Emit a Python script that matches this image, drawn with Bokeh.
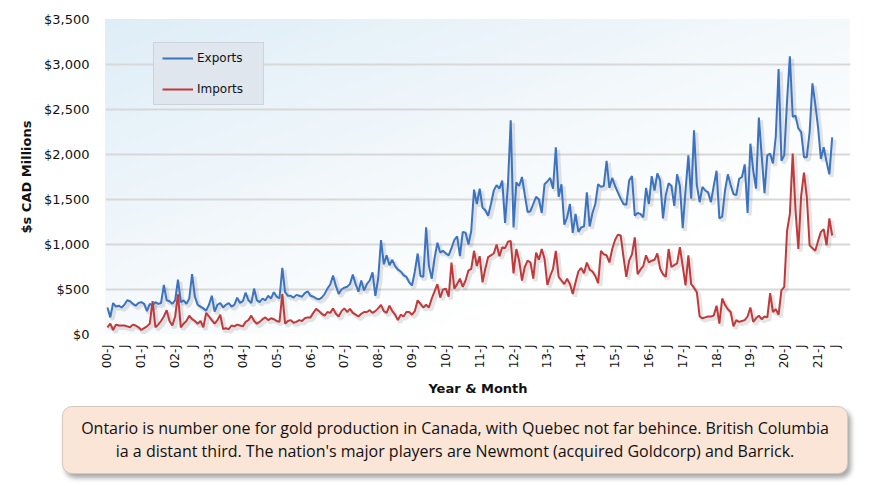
import math
from bokeh.plotting import figure
from bokeh.models import (ColumnDataSource, FixedTicker, NumeralTickFormatter,
                          Range1d, Legend, LegendItem, Div)
from bokeh.layouts import column
from bokeh.transform import dodge
from bokeh.embed import file_html
from bokeh.resources import INLINE

# ---------------- data (monthly, Jan 2000 .. Jun 2021, $ CAD millions) ----------------
year_labels = ["00", "01", "02", "03", "04", "05", "06", "07", "08", "09", "10",
               "11", "12", "13", "14", "15", "16", "17", "18", "19", "20", "21"]

exports = [
    300, 190, 350, 310, 320, 300, 330, 380, 370, 340, 320, 350,          # 2000
    360, 340, 260, 340, 320, 360, 340, 350, 550, 380, 370, 340,          # 2001
    380, 610, 360, 380, 340, 400, 670, 420, 330, 310, 290, 265,          # 2002
    330, 430, 255, 330, 350, 300, 330, 350, 310, 330, 410, 350,          # 2003
    370, 465, 380, 350, 510, 380, 360, 400, 380, 430, 400, 470,          # 2004
    420, 400, 740, 470, 430, 430, 410, 440, 430, 420, 460, 480,          # 2005
    430, 420, 400, 390, 410, 450, 510, 555, 655, 540, 450, 500,          # 2006
    520, 530, 560, 665, 560, 475, 600, 490, 560, 600, 690, 430,          # 2007
    620, 1050, 780, 880, 770, 830, 760, 720, 700, 660, 640, 580,         # 2008
    545, 700, 900, 650, 640, 1190, 760, 620, 850, 1020, 910, 930,        # 2009
    900, 880, 960, 1050, 1090, 870, 1140, 1130, 1000, 1150, 1610, 1450,  # 2010
    1620, 1410, 1380, 1320, 1450, 1600, 1660, 1620, 1710, 1240, 1650, 2380,  # 2011
    1190, 1690, 1650, 1750, 1550, 1360, 1370, 1450, 1530, 1500, 1350, 1670,  # 2012
    1700, 1740, 1620, 2080, 1530, 1670, 1220, 1300, 1450, 1130, 1340, 1140,  # 2013
    1190, 1200, 1580, 1200, 1350, 1450, 1670, 1640, 1650, 1930, 1630, 1740,  # 2014
    1650, 1580, 1510, 1450, 1440, 1710, 1760, 1320, 1350, 1340, 1300, 1630,  # 2015
    1450, 1760, 1600, 1790, 1710, 1290, 1550, 1680, 1650, 1430, 1780, 1650,  # 2016
    1180, 1600, 1990, 1510, 2270, 1660, 1470, 1640, 1600, 1580, 1470, 1650,  # 2017
    1820, 1290, 1310, 1600, 1780, 1660, 1560, 1550, 1730, 1750, 1890, 1350,  # 2018
    2120, 1820, 1620, 2410, 1990, 1570, 1990, 2010, 1900, 2200, 2950, 1930,  # 2019
    1990, 2600, 3090, 2420, 2430, 2290, 2250, 1970, 1970, 2250, 2790, 2560,  # 2020
    2300, 1950, 2080, 1920, 1780, 2190,                                      # 2021
]

imports = [
    80, 120, 50, 110, 100, 100, 100, 90, 80, 110, 100, 80,               # 2000
    50, 70, 90, 120, 370, 80, 110, 150, 200, 270, 150, 100,              # 2001
    200, 445, 80, 120, 150, 210, 170, 150, 120, 150, 80, 240,            # 2002
    200, 160, 120, 160, 220, 60, 70, 60, 100, 90, 110, 100,              # 2003
    90, 140, 160, 210, 150, 120, 140, 170, 190, 160, 180, 170,           # 2004
    150, 140, 450, 120, 150, 160, 130, 140, 160, 150, 180, 190,          # 2005
    190, 240, 285, 260, 230, 210, 250, 240, 290, 230, 200, 260,          # 2006
    290, 250, 285, 240, 220, 200, 230, 250, 250, 270, 240, 260,          # 2007
    290, 330, 260, 240, 320, 260, 220, 160, 220, 200, 250, 250,          # 2008
    220, 260, 380, 340, 300, 330, 300, 400, 480, 560, 410, 500,          # 2009
    510, 420, 800, 510, 560, 620, 530, 600, 710, 730, 930, 760,          # 2010
    870, 580, 730, 860, 880, 900, 1000, 870, 970, 960, 1030, 1040,       # 2011
    680, 950, 820, 600, 750, 820, 800, 620, 910, 830, 950, 840,          # 2012
    550, 650, 730, 930, 640, 600, 560, 620, 560, 450, 580, 700,          # 2013
    740, 680, 800, 720, 700, 650, 570, 930, 890, 880, 800, 950,          # 2014
    1050, 1110, 1100, 860, 640, 820, 890, 1080, 670, 720, 760, 880,      # 2015
    800, 820, 830, 900, 730, 670, 640, 950, 750, 770, 790, 970,          # 2016
    760, 545, 880, 560, 520, 470, 200, 180, 190, 200, 200, 210,          # 2017
    320, 120, 400, 330, 280, 250, 90, 160, 140, 150, 160, 200,           # 2018
    300, 140, 180, 210, 170, 200, 190, 460, 250, 280, 220, 490,          # 2019
    530, 1150, 1340, 2010, 1380, 950, 1540, 1800, 1530, 990, 960, 930,   # 2020
    1040, 1140, 1170, 990, 1290, 1100,                                   # 2021
]

y_ticks = [0, 500, 1000, 1500, 2000, 2500, 3000, 3500]

caption_lines = [
    "Ontario is number one for gold production in Canada, with Quebec not far behince. British Columbia",
    "ia a distant third. The nation's major players are Newmont (acquired Goldcorp) and Barrick.",
]

# ---------------- derived ----------------
month_idx = list(range(len(exports)))
x_ticks = list(range(0, len(year_labels) * 12, 6))
x_tick_labels = {t: (f"{year_labels[t // 12]}-J" if t % 12 == 0 else "J") for t in x_ticks}

src = ColumnDataSource(data=dict(m=month_idx, exports=exports, imports=imports))

FONT = "DejaVu Sans"
BLUE = "#3b73c0"
RED = "#c0393b"

p = figure(width=862, height=400,
           x_range=Range1d(-0.7, 263.5), y_range=Range1d(0, 3500),
           output_backend="svg", toolbar_location=None,
           min_border_left=105, min_border_right=12, min_border_top=19, min_border_bottom=66)

p.border_fill_alpha = 0
p.background_fill_alpha = 0
p.styles = {
    "background": "linear-gradient(160deg, #deedf7 0%, #f3f8fb 45%, #ffffff 75%) 105px 19px / 745px 315px no-repeat, #ffffff"
}
p.outline_line_color = None

# grid
p.xgrid.visible = False
p.ygrid.grid_line_color = "#d8d8d8"
p.ygrid.grid_line_width = 2

# y axis
p.yaxis.ticker = FixedTicker(ticks=y_ticks)
p.yaxis.formatter = NumeralTickFormatter(format="$0,0")
p.yaxis.axis_label = "$s CAD Millions"
p.yaxis.axis_label_text_font = FONT
p.yaxis.axis_label_text_font_style = "bold"
p.yaxis.axis_label_text_font_size = "13px"
p.yaxis.axis_label_text_color = "#111111"
p.yaxis.axis_label_standoff = 7
p.yaxis.major_label_text_font = FONT
p.yaxis.major_label_text_font_size = "13px"
p.yaxis.major_label_text_color = "#111111"
p.yaxis.major_label_standoff = 10

# x axis
p.xaxis.ticker = FixedTicker(ticks=x_ticks)
p.xaxis.major_label_overrides = x_tick_labels
p.xaxis.major_label_orientation = math.pi / 2
p.xaxis.axis_label = "Year & Month"
p.xaxis.axis_label_text_font = FONT
p.xaxis.axis_label_text_font_style = "bold"
p.xaxis.axis_label_text_font_size = "13px"
p.xaxis.axis_label_text_color = "#111111"
p.xaxis.axis_label_standoff = 10
p.xaxis.major_label_text_font = FONT
p.xaxis.major_label_text_font_size = "12px"
p.xaxis.major_label_text_color = "#111111"
p.xaxis.major_label_standoff = 4

for ax in (p.xaxis, p.yaxis):
    ax.axis_line_color = None
    ax.major_tick_line_color = None
    ax.minor_tick_line_color = None

# soft shadows under the lines
p.line(x=dodge("m", 0.8), y=dodge("exports", -28), source=src,
       line_color="#000000", line_alpha=0.10, line_width=4)
p.line(x=dodge("m", 0.8), y=dodge("imports", -28), source=src,
       line_color="#000000", line_alpha=0.10, line_width=4)

r_exp = p.line(x="m", y="exports", source=src, line_color=BLUE, line_width=2)
r_imp = p.line(x="m", y="imports", source=src, line_color=RED, line_width=2)

legend = Legend(items=[LegendItem(label="Exports", renderers=[r_exp]),
                       LegendItem(label="Imports", renderers=[r_imp])],
                location=(48, 229))
legend.background_fill_color = "#dfe6ee"
legend.background_fill_alpha = 1
legend.border_line_color = "#b9bfc7"
legend.border_line_width = 1
legend.label_text_font = FONT
legend.label_text_font_size = "12px"
legend.label_text_color = "#111111"
legend.glyph_width = 31
legend.glyph_height = 12
legend.label_height = 12
legend.label_width = 58
legend.label_standoff = 4
legend.spacing = 17
legend.padding = 8
legend.margin = 0
p.add_layout(legend)

caption = Div(
    text="<br>".join(caption_lines),
    width=786, height=68, margin=(6, 0, 0, 62),
    styles={
        "background-color": "#fbe5d6",
        "border": "1px solid #d2c9c2",
        "border-radius": "10px",
        "box-shadow": "3px 4px 5px rgba(0,0,0,0.35)",
        "font-family": "Open Sans",
        "font-size": "16px",
        "color": "#111111",
        "text-align": "center",
        "line-height": "23px",
        "display": "flex",
        "align-items": "center",
        "justify-content": "center",
    },
)

layout = column(p, caption)
open("out.html", "w").write(file_html(layout, INLINE))
